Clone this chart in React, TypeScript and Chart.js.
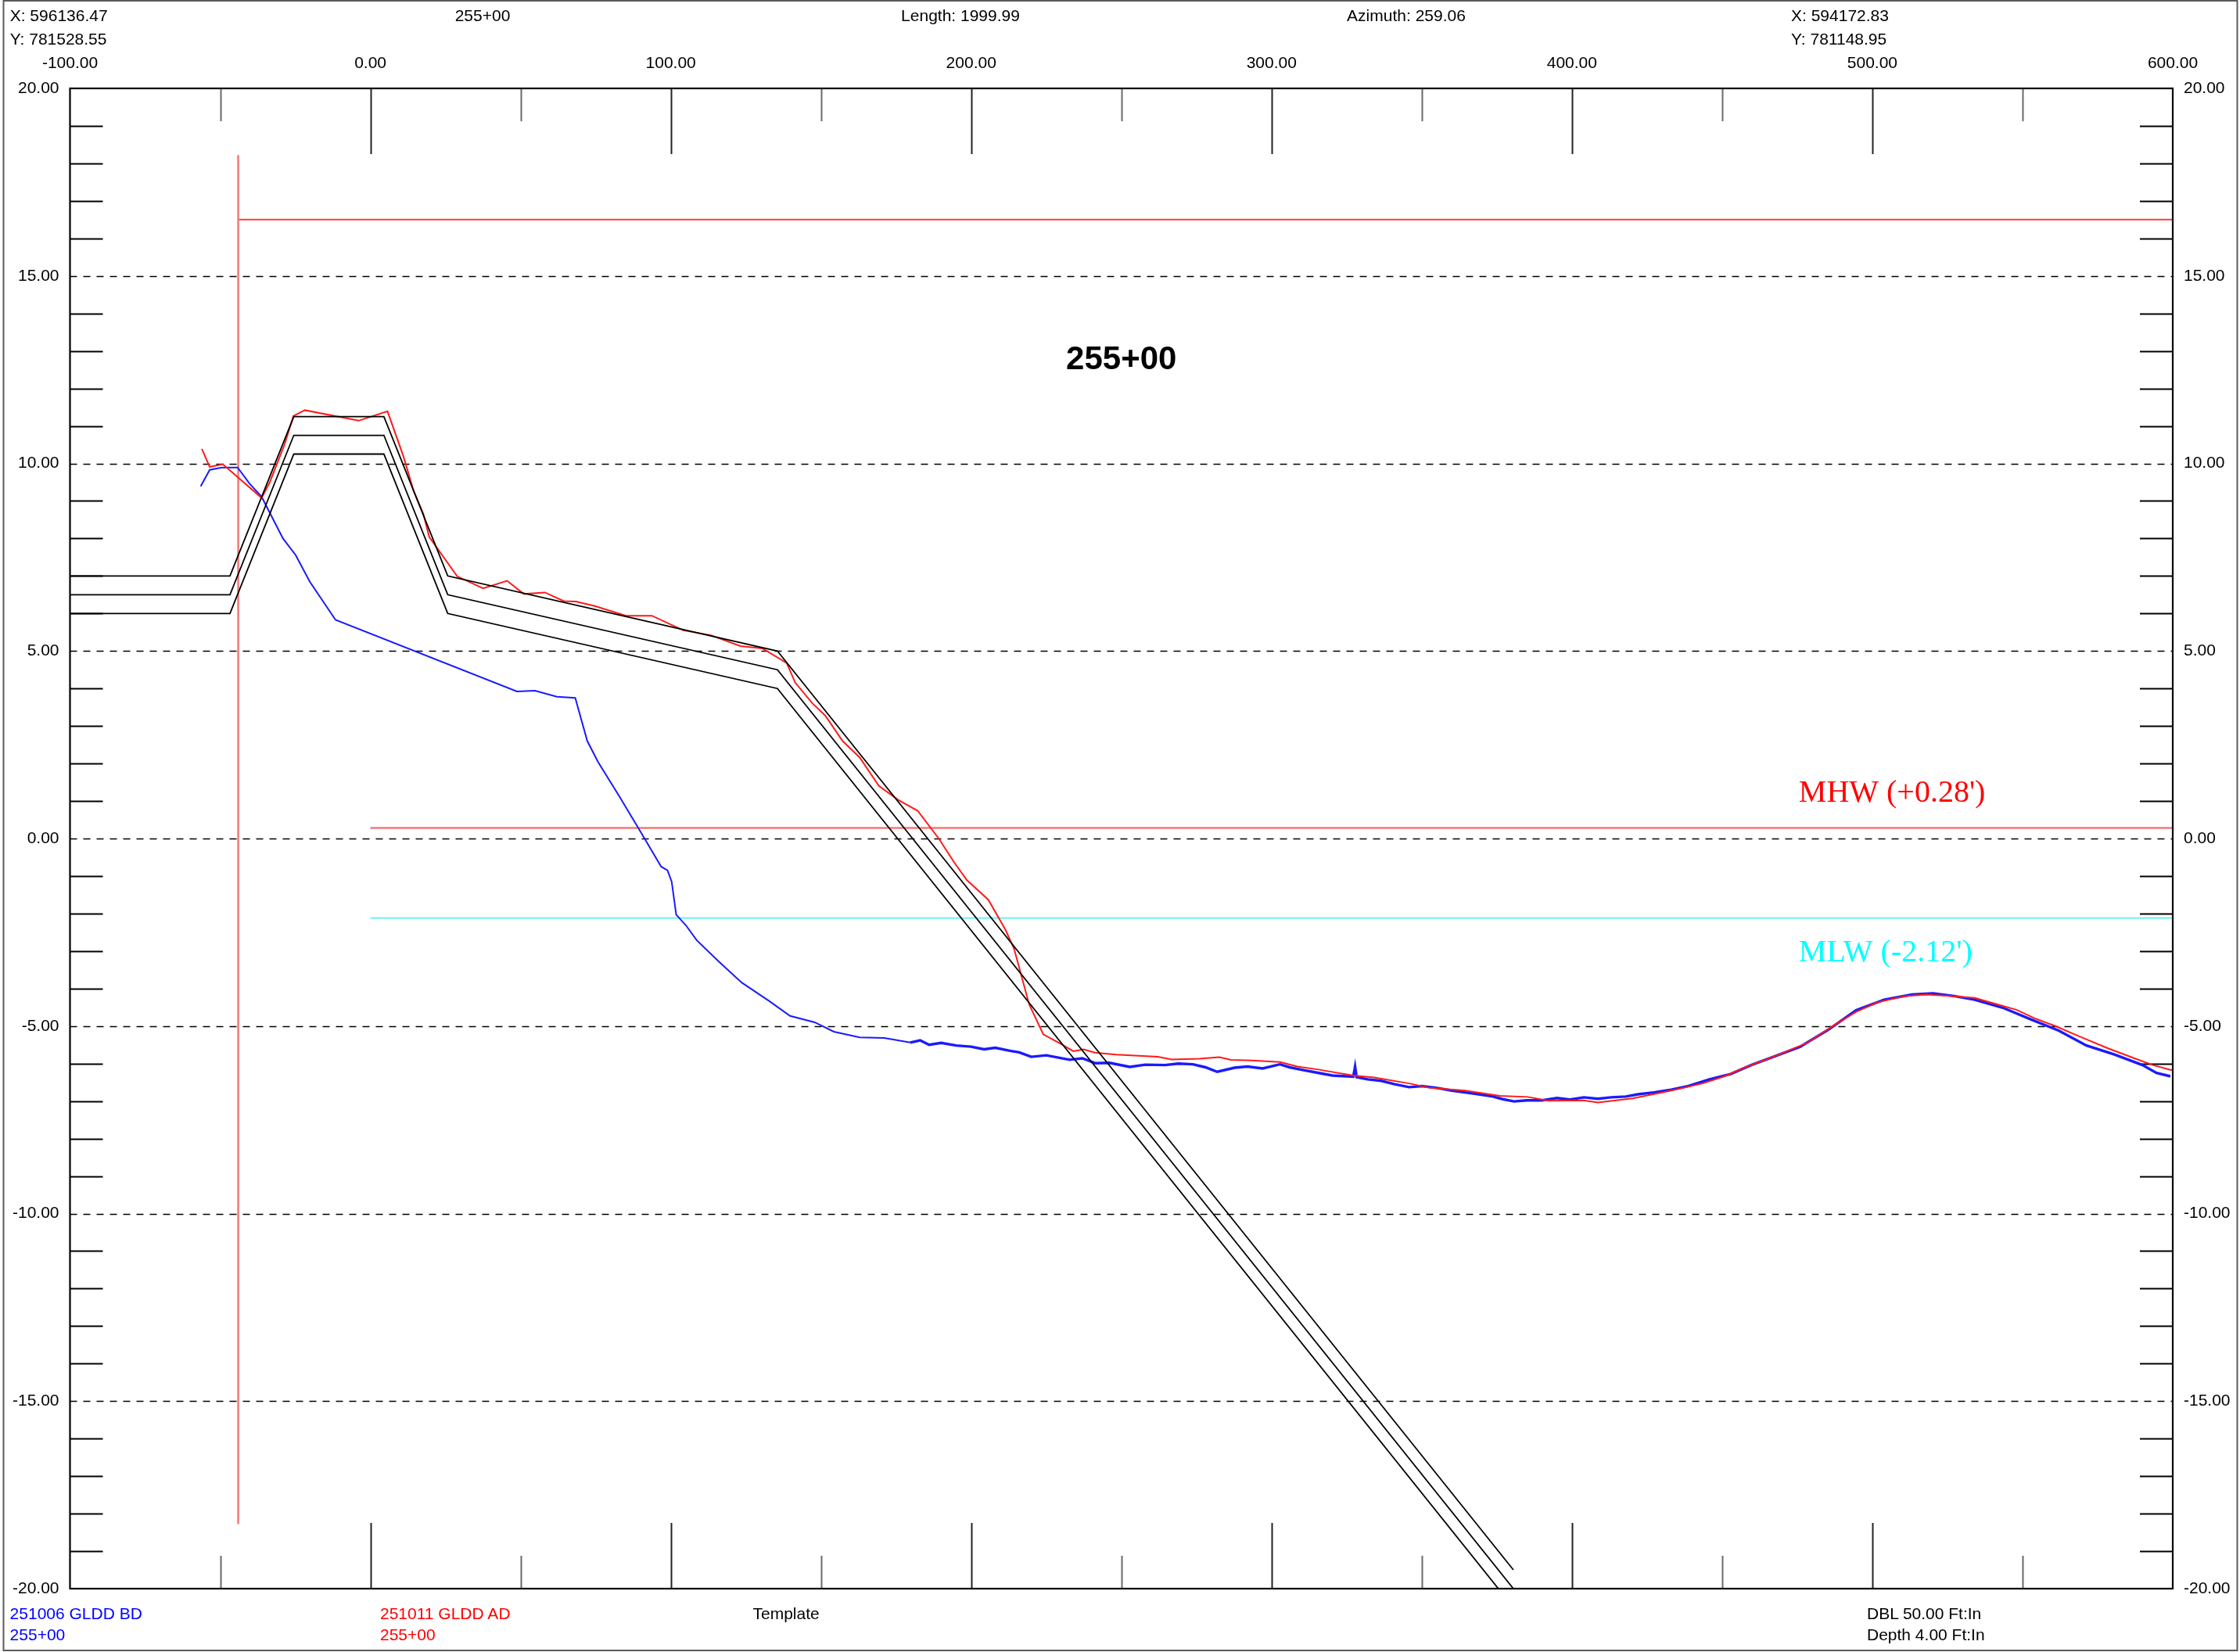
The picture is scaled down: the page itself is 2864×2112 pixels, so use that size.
import React, { useEffect, useRef } from 'react';
import { Chart, registerables } from 'chart.js';

Chart.register(...registerables);

// ---------- axes ----------
const X_MIN = -100;
const X_MAX = 600;
const Y_MIN = -20;
const Y_MAX = 20;
const X_TICK_STEP = 100;
const Y_TICK_STEP = 5;
const X_MAJOR_TICKS = [0, 100, 200, 300, 400, 500];
const X_MINOR_TICKS = [-50, 50, 150, 250, 350, 450, 550];
const Y_DASHED_LINES = [-15, -10, -5, 0, 5, 10, 15];

// ---------- template (three parallel lines) ----------
const TEMPLATE_X = [-100, -46.75, -25.5, 4.5, 25.75, 135.5, 380.5];
const TEMPLATE_UPPER_Y = [7.0, 7.0, 11.25, 11.25, 7.0, 5.0, -19.5];
const TEMPLATE_MID_Y = [6.5, 6.5, 10.75, 10.75, 6.5, 4.5, -20.0];
const TEMPLATE_LOWER_Y = [6.0, 6.0, 10.25, 10.25, 6.0, 4.0, -20.5];

// ---------- 251006 GLDD BD (blue) ----------
const SURVEY_BD_X = [
  -56.5, -53.5, -49.5, -44.2, -40.2, -36.2, -29.1, -24.9, -20.2, -11.6,
  48.8, 54.8, 62.1, 68.2, 72.2, 75.8, 82.9, 90.0, 96.8, 98.9,
  100.3, 101.8, 105.0, 108.6, 115.7, 123.6, 132.9, 139.7, 147.9, 154.3,
  162.9, 171.1, 179.7, 183, 186, 190, 195, 200, 204.3, 208,
  212.9, 216, 220, 225, 232.8, 237, 241.4, 246, 252.8, 258,
  264.5, 269, 273.8, 278, 281.9, 287.7, 292, 297, 302.8, 306,
  311, 315, 320.3, 325, 327.2, 327.8, 328.3, 332, 336.5, 341,
  345.8, 350, 355.1, 360, 364.4, 369, 373.7, 377, 380.7, 385,
  390, 395, 399.3, 404, 408.6, 413, 417.9, 422, 427.2, 433,
  438.8, 445.8, 452.8, 459.7, 466.7, 476.0, 485.3, 494.6, 503.9, 513.2,
  520.2, 527.2, 534.1, 543.4, 552.7, 562.0, 571.3, 580.6, 589.9, 594.6,
  599.2,
];
const SURVEY_BD_Y = [
  9.39, 9.83, 9.89, 9.89, 9.46, 9.11, 8.0, 7.56, 6.85, 5.83,
  3.92, 3.94, 3.78, 3.75, 2.6, 2.04, 1.12, 0.17, -0.75, -0.85,
  -1.15, -2.03, -2.31, -2.71, -3.26, -3.84, -4.34, -4.73, -4.9, -5.15,
  -5.3, -5.32, -5.44, -5.38, -5.5, -5.45, -5.52, -5.55, -5.62, -5.58,
  -5.66, -5.7, -5.82, -5.78, -5.9, -5.86, -5.99, -5.98, -6.09, -6.03,
  -6.04, -6.0, -6.02, -6.1, -6.22, -6.11, -6.08, -6.13, -6.02, -6.1,
  -6.18, -6.24, -6.32, -6.34, -6.35, -6.08, -6.36, -6.42, -6.46, -6.55,
  -6.63, -6.6, -6.65, -6.72, -6.77, -6.82, -6.88, -6.95, -7.01, -6.98,
  -6.98, -6.92, -6.96, -6.9, -6.94, -6.9, -6.88, -6.82, -6.77, -6.7,
  -6.6, -6.42, -6.28, -6.04, -5.83, -5.55, -5.1, -4.58, -4.3, -4.16,
  -4.13, -4.2, -4.3, -4.51, -4.82, -5.12, -5.52, -5.76, -6.04, -6.25,
  -6.34,
];
// station where the dense (noisy) sounding record starts
const BD_DENSE_FROM_X = 179.7;

// ---------- 251011 GLDD AD (red) ----------
const SURVEY_AD_X = [
  -56.1, -53.5, -49.1, -36.2, -33.5, -28.6, -25.6, -21.8, -3.9, 5.7,
  11.0, 14.3, 17.6, 19.6, 28.9, 37.5, 45.5, 51.1, 58.1, 64.4,
  68.4, 74.7, 85.1, 93.7, 104.2, 113.3, 123.2, 130.5, 138.6, 141.4,
  147.2, 151.4, 157.2, 162.9, 169.3, 175.7, 182.2, 189.3, 194.3, 198.6,
  205.7, 211.4, 214.3, 219.3, 224.0, 230.0, 234.0, 237.4, 241.2, 248.2,
  262.1, 266.8, 276.1, 282.6, 286.5, 293.5, 302.8, 308.6, 315.6, 327.2,
  334.2, 345.8, 352.8, 364.4, 376.0, 385.3, 392.3, 403.9, 408.6, 420.2,
  431.8, 443.5, 450.4, 457.4, 469.0, 478.3, 487.6, 494.6, 501.6, 510.9,
  517.9, 524.8, 534.1, 541.1, 548.1, 553.9, 560.9, 569.0, 578.3, 587.6,
  593.4, 599.7,
];
const SURVEY_AD_Y = [
  10.39, 9.91, 9.98, 9.08, 9.5, 10.5, 11.27, 11.42, 11.14, 11.39,
  10.19, 9.29, 8.66, 8.04, 6.99, 6.67, 6.87, 6.52, 6.56, 6.33,
  6.32, 6.2, 5.94, 5.94, 5.55, 5.42, 5.13, 5.07, 4.68, 4.16,
  3.6, 3.28, 2.6, 2.16, 1.4, 1.03, 0.74, -0.01, -0.63, -1.11,
  -1.63, -2.43, -2.94, -4.42, -5.22, -5.48, -5.67, -5.62, -5.71, -5.76,
  -5.82, -5.89, -5.87, -5.83, -5.9, -5.92, -5.96, -6.08, -6.16, -6.32,
  -6.37, -6.53, -6.65, -6.72, -6.86, -6.89, -6.99, -6.98, -7.04, -6.93,
  -6.74, -6.53, -6.35, -6.11, -5.76, -5.45, -4.96, -4.62, -4.37, -4.2,
  -4.16, -4.19, -4.25, -4.41, -4.57, -4.79, -5.0, -5.28, -5.59, -5.87,
  -6.04, -6.18,
];

// ---------- reference lines ----------
const RANGE_LINE_X = [-44, -44];
const RANGE_LINE_Y = [-18.28, 18.22];
const LIMIT_LINE_X = [-44, 600];
const LIMIT_LINE_Y = [16.5, 16.5];
const TIDE_LINE_X = [0, 600];
const MHW = 0.28;
const MLW = -2.12;

// ---------- texts ----------
const TITLE = '255+00';
const MHW_LABEL = "MHW (+0.28')";
const MLW_LABEL = "MLW (-2.12')";

// label anchor positions (in data units)
const TITLE_POS = { x: 250, y: 12.52 };
const MHW_LABEL_POS = { x: 475.5, y: 0.98 };
const MLW_LABEL_POS = { x: 475.5, y: -3.27 };

const SANS = '"Liberation Sans", Arial, Helvetica, sans-serif';
const SERIF = '"Liberation Serif", "Times New Roman", serif';

const W = 2864;
const H = 2112;
const PLOT_LEFT = 89.5;
const PLOT_TOP = 113;
const PLOT_RIGHT = 2778;
const PLOT_BOTTOM = 2031;

const zip = (xs: number[], ys: number[]) => xs.map((x, i) => ({ x, y: ys[i] }));

const sectionPlugin = {
  id: 'sectionDecor',
  beforeDatasetsDraw(chart: any) {
    const { ctx, chartArea: a, scales } = chart;
    const x = scales.x;
    const y = scales.y;
    ctx.save();
    // dashed grid lines
    ctx.strokeStyle = '#000';
    ctx.lineWidth = 1.6;
    ctx.setLineDash([9, 8]);
    for (const v of Y_DASHED_LINES) {
      const py = Math.round(y.getPixelForValue(v)) + 0.5;
      ctx.beginPath();
      ctx.moveTo(a.left, py);
      ctx.lineTo(a.right, py);
      ctx.stroke();
    }
    ctx.setLineDash([]);
    // y minor ticks (every 1 unit)
    ctx.strokeStyle = '#000';
    ctx.lineWidth = 2;
    for (let v = Y_MIN + 1; v < Y_MAX; v++) {
      if (v % Y_TICK_STEP === 0) continue;
      const py = Math.round(y.getPixelForValue(v)) + 0.5;
      ctx.beginPath();
      ctx.moveTo(a.left, py);
      ctx.lineTo(a.left + 42, py);
      ctx.moveTo(a.right - 42, py);
      ctx.lineTo(a.right, py);
      ctx.stroke();
    }
    // x major ticks
    ctx.strokeStyle = '#222';
    ctx.lineWidth = 2;
    for (const v of X_MAJOR_TICKS) {
      const px = Math.round(x.getPixelForValue(v)) + 0.5;
      ctx.beginPath();
      ctx.moveTo(px, a.top);
      ctx.lineTo(px, a.top + 84);
      ctx.moveTo(px, a.bottom - 84);
      ctx.lineTo(px, a.bottom);
      ctx.stroke();
    }
    // x minor ticks
    ctx.strokeStyle = '#6a6a6a';
    for (const v of X_MINOR_TICKS) {
      const px = Math.round(x.getPixelForValue(v)) + 0.5;
      ctx.beginPath();
      ctx.moveTo(px, a.top);
      ctx.lineTo(px, a.top + 42);
      ctx.moveTo(px, a.bottom - 42);
      ctx.lineTo(px, a.bottom);
      ctx.stroke();
    }
    ctx.restore();
  },
  afterDatasetsDraw(chart: any) {
    const { ctx, chartArea: a, scales } = chart;
    const x = scales.x;
    const y = scales.y;
    ctx.save();
    // plot frame
    ctx.strokeStyle = '#000';
    ctx.lineWidth = 2.2;
    ctx.strokeRect(a.left, a.top, a.right - a.left, a.bottom - a.top);
    // title
    ctx.fillStyle = '#000';
    ctx.font = `bold 42px ${SANS}`;
    ctx.textAlign = 'center';
    ctx.textBaseline = 'alphabetic';
    ctx.fillText(TITLE, x.getPixelForValue(TITLE_POS.x), y.getPixelForValue(TITLE_POS.y));
    // tide labels
    ctx.font = `40px ${SERIF}`;
    ctx.textAlign = 'left';
    ctx.fillStyle = '#ff0000';
    ctx.fillText(MHW_LABEL, x.getPixelForValue(MHW_LABEL_POS.x), y.getPixelForValue(MHW_LABEL_POS.y));
    ctx.fillStyle = '#00ffff';
    ctx.fillText(MLW_LABEL, x.getPixelForValue(MLW_LABEL_POS.x), y.getPixelForValue(MLW_LABEL_POS.y));
    ctx.restore();
  },
  afterDraw(chart: any) {
    const { ctx } = chart;
    ctx.save();
    ctx.strokeStyle = '#5a5a5a';
    ctx.lineWidth = 2;
    ctx.strokeRect(4.5, 1, W - 8, H - 3);
    ctx.restore();
  },
};

const textStyle = (left: number, top: number, color: string, center = false): React.CSSProperties => ({
  position: 'absolute',
  left,
  top,
  color,
  fontFamily: SANS,
  fontSize: 21,
  lineHeight: '21px',
  whiteSpace: 'nowrap',
  transform: center ? 'translateX(-50%)' : undefined,
});

export default function App() {
  const canvasRef = useRef<HTMLCanvasElement | null>(null);

  useEffect(() => {
    document.body.style.margin = '0';
    document.body.style.overflow = 'hidden';
    const canvas = canvasRef.current;
    if (!canvas) return;

    const tickFont = { family: SANS, size: 21 };
    const fmt = (v: any) => Number(v).toFixed(2);

    const base = { showLine: true, pointRadius: 0, pointHoverRadius: 0, fill: false, tension: 0 };

    const chart = new Chart(canvas, {
      type: 'scatter',
      data: {
        datasets: [
          { ...base, label: 'Template upper', data: zip(TEMPLATE_X, TEMPLATE_UPPER_Y), borderColor: '#000', borderWidth: 1.8 },
          { ...base, label: 'Template', data: zip(TEMPLATE_X, TEMPLATE_MID_Y), borderColor: '#000', borderWidth: 1.8 },
          { ...base, label: 'Template lower', data: zip(TEMPLATE_X, TEMPLATE_LOWER_Y), borderColor: '#000', borderWidth: 1.8 },
          { ...base, label: '251011 GLDD AD', data: zip(SURVEY_AD_X, SURVEY_AD_Y), borderColor: '#ff1a1a', borderWidth: 2 },
          {
            ...base,
            label: '251006 GLDD BD',
            data: zip(SURVEY_BD_X, SURVEY_BD_Y),
            borderColor: '#1a1aff',
            borderWidth: 2,
            segment: {
              borderWidth: (c: any) => (c.p0.parsed.x >= BD_DENSE_FROM_X ? 3.4 : 2),
            },
          },
          { ...base, label: 'Range line', data: zip(RANGE_LINE_X, RANGE_LINE_Y), borderColor: '#f47c7c', borderWidth: 2.6 },
          { ...base, label: 'Limit line', data: zip(LIMIT_LINE_X, LIMIT_LINE_Y), borderColor: '#ff3a3a', borderWidth: 2 },
          { ...base, label: 'MHW', data: zip(TIDE_LINE_X, [MHW, MHW]), borderColor: '#f57878', borderWidth: 2.4 },
          { ...base, label: 'MLW', data: zip(TIDE_LINE_X, [MLW, MLW]), borderColor: '#55f2f2', borderWidth: 1.8 },
        ],
      },
      options: {
        responsive: false,
        animation: false,
        events: [],
        layout: { padding: { left: 0, right: 0, top: 0, bottom: H - PLOT_BOTTOM } },
        plugins: {
          legend: { display: false },
          tooltip: { enabled: false },
          title: { display: false },
        },
        scales: {
          x: {
            type: 'linear',
            position: 'top',
            min: X_MIN,
            max: X_MAX,
            grid: { display: false, drawTicks: false, tickLength: 0 },
            border: { display: false },
            ticks: {
              stepSize: X_TICK_STEP,
              autoSkip: false,
              maxRotation: 0,
              padding: 19,
              color: '#000',
              font: tickFont,
              callback: fmt,
            },
            afterFit: (s: any) => {
              s.height = PLOT_TOP;
            },
          },
          y: {
            type: 'linear',
            position: 'left',
            min: Y_MIN,
            max: Y_MAX,
            grid: { display: false, drawTicks: false, tickLength: 0 },
            border: { display: false },
            ticks: { stepSize: Y_TICK_STEP, autoSkip: false, padding: 14, color: '#000', font: tickFont, callback: fmt },
            afterFit: (s: any) => {
              s.width = PLOT_LEFT;
            },
          },
          y2: {
            type: 'linear',
            position: 'right',
            min: Y_MIN,
            max: Y_MAX,
            grid: { display: false, drawTicks: false, tickLength: 0 },
            border: { display: false },
            ticks: { stepSize: Y_TICK_STEP, autoSkip: false, padding: 14, color: '#000', font: tickFont, callback: fmt },
            afterFit: (s: any) => {
              s.width = W - PLOT_RIGHT;
            },
          },
        },
      } as any,
      plugins: [sectionPlugin],
    });

    return () => {
      chart.destroy();
    };
  }, []);

  return (
    <div style={{ position: 'relative', width: W, height: H, overflow: 'hidden', background: '#fff' }}>
      <canvas ref={canvasRef} width={W} height={H} style={{ position: 'absolute', left: 0, top: 0, width: W, height: H }} />
      <div style={textStyle(12.7, 8.5, '#000')}>X: 596136.47</div>
      <div style={textStyle(617, 8.5, '#000', true)}>255+00</div>
      <div style={textStyle(1228, 8.5, '#000', true)}>Length: 1999.99</div>
      <div style={textStyle(1798, 8.5, '#000', true)}>Azimuth: 259.06</div>
      <div style={textStyle(2290, 8.5, '#000')}>X: 594172.83</div>
      <div style={textStyle(12.7, 39.4, '#000')}>Y: 781528.55</div>
      <div style={textStyle(2290, 39.4, '#000')}>Y: 781148.95</div>

      <div style={textStyle(12.6, 2051.7, '#0000ff')}>251006 GLDD BD</div>
      <div style={textStyle(12.6, 2078.7, '#0000ff')}>255+00</div>
      <div style={textStyle(486, 2051.7, '#ff0000')}>251011 GLDD AD</div>
      <div style={textStyle(486, 2078.7, '#ff0000')}>255+00</div>
      <div style={textStyle(962.5, 2051.7, '#000')}>Template</div>
      <div style={textStyle(2387, 2051.7, '#000')}>DBL 50.00 Ft:In</div>
      <div style={textStyle(2387, 2078.7, '#000')}>Depth 4.00 Ft:In</div>
    </div>
  );
}
